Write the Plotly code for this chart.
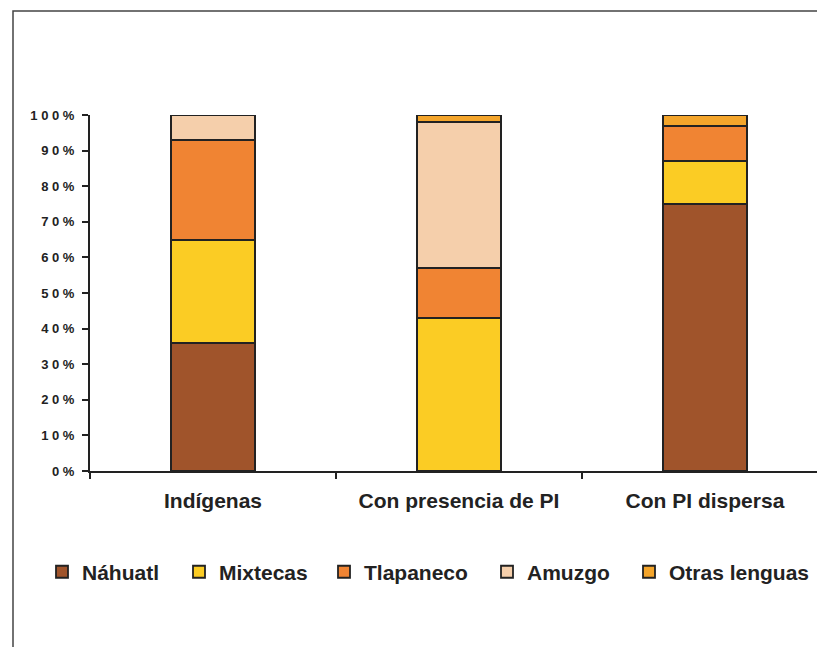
import plotly.graph_objects as go

categories = ["Indígenas", "Con presencia de PI", "Con PI dispersa"]
series_names = ["Náhuatl", "Mixtecas", "Tlapaneco", "Amuzgo", "Otras lenguas"]
nahuatl = [36, 0, 75]
mixtecas = [29, 43, 12]
tlapaneco = [28, 14, 10]
amuzgo = [7, 41, 0]
otras = [0, 2, 3]
colors = ["#A0542B", "#FBCC24", "#F08433", "#F5CFAB", "#F4A52B"]

tick_vals = [0, 10, 20, 30, 40, 50, 60, 70, 80, 90, 100]
tick_text = ["0 %", "1 0 %", "2 0 %", "3 0 %", "4 0 %", "5 0 %",
             "6 0 %", "7 0 %", "8 0 %", "9 0 %", "1 0 0 %"]

# one legend per series so each entry sits where it does in the original
legend_ids = ["legend", "legend2", "legend3", "legend4", "legend5"]
legend_px = [56, 193, 338, 501, 643]

fig = go.Figure()
for name, vals, col, lg in zip(series_names, [nahuatl, mixtecas, tlapaneco, amuzgo, otras],
                               colors, legend_ids):
    fig.add_trace(go.Bar(
        x=categories, y=vals, name=name, legend=lg,
        marker=dict(color=col, line=dict(color="#222222", width=1.8)),
        width=0.34,
    ))

legend_font = dict(size=21, family="Liberation Sans, Arial", weight="bold", color="#222222")
legends = {}
for lg, px in zip(legend_ids, legend_px):
    legends[lg] = dict(
        orientation="h", xanchor="left", x=(px - 14 - 90) / 735,
        y=-0.284, yanchor="middle", font=legend_font, itemwidth=30,
        bgcolor="rgba(0,0,0,0)",
    )

# page body adds an 8px offset, so margins are shifted by 8
fig.update_layout(
    barmode="stack",
    width=825, height=647,
    margin=dict(l=82, r=8, t=107, b=184),
    paper_bgcolor="white",
    plot_bgcolor="white",
    font=dict(family="Liberation Sans, Arial", color="#222222"),
    showlegend=True,
    xaxis=dict(
        type="category",
        range=[-0.5, 2.488],
        showline=True, linecolor="#222222", linewidth=2,
        ticks="outside", tickson="boundaries", ticklen=6, tickwidth=2, tickcolor="#222222",
        tickfont=dict(size=21, weight="bold", color="#222222"),
        ticklabelstandoff=10,
        showgrid=False,
    ),
    yaxis=dict(
        range=[0, 100],
        tickvals=tick_vals, ticktext=tick_text,
        showline=True, linecolor="#222222", linewidth=2,
        ticks="outside", ticklen=6, tickwidth=2, tickcolor="#222222",
        tickfont=dict(size=13, weight="bold", color="#222222"),
        ticklabelstandoff=5,
        showgrid=False, zeroline=False,
    ),
    shapes=[dict(
        type="rect", xref="paper", yref="paper",
        x0=(13 - 90) / 735, x1=1.2, y0=-0.6, y1=(471 - 11) / 356,
        line=dict(color="#444444", width=1.5), fillcolor="rgba(0,0,0,0)",
        layer="below",
    )],
    **legends,
)

fig.write_html("out.html")
